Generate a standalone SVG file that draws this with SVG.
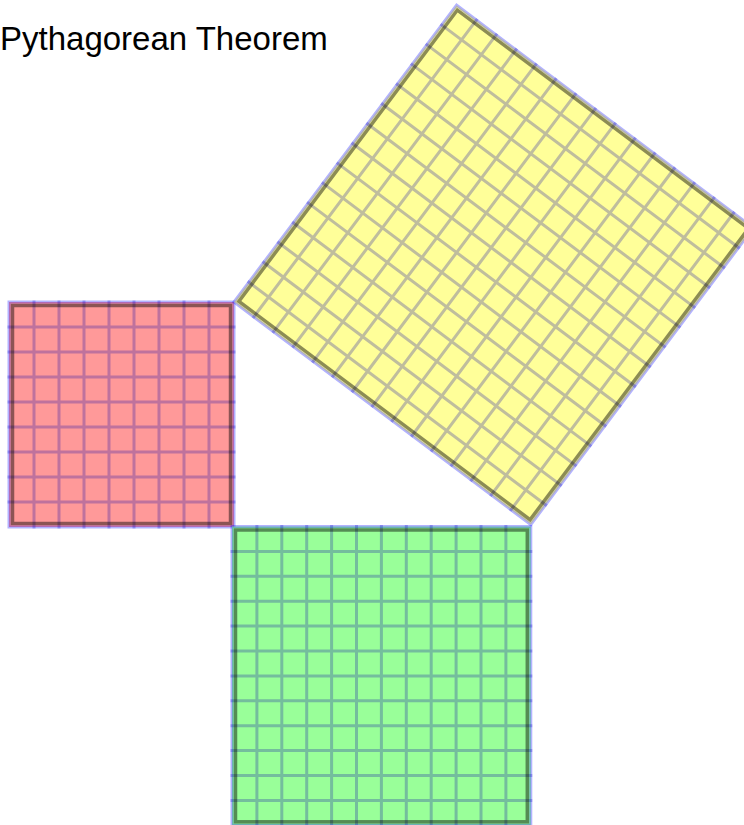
<svg xmlns="http://www.w3.org/2000/svg" width="744" height="825" viewBox="0 0 744 825">
<style>
.title{font-family:"Liberation Sans",Arial,sans-serif;font-size:33px;fill:#000}
.grid{fill:none;stroke:rgba(20,10,170,0.27);stroke-width:3}
.edge{fill:none;stroke:rgba(0,0,255,0.3);stroke-width:3}
.inner{fill:none;stroke:rgba(0,0,0,0.45);stroke-width:3.5}
</style>
<rect width="744" height="825" fill="#fff"/>
<g id="title"><text class="title" x="0" y="50">Pythagorean Theorem</text></g>
<g id="square-a" transform="translate(9,302)">
<rect width="225" height="225" fill="#ff9999"/>
<path class="grid" d="M25,-1.5V226.5M50,-1.5V226.5M75,-1.5V226.5M100,-1.5V226.5M125,-1.5V226.5M150,-1.5V226.5M175,-1.5V226.5M200,-1.5V226.5M-1.5,25H226.5M-1.5,50H226.5M-1.5,75H226.5M-1.5,100H226.5M-1.5,125H226.5M-1.5,150H226.5M-1.5,175H226.5M-1.5,200H226.5"/>
<rect class="edge" width="225" height="225"/>
<rect class="inner" x="3.5" y="3.5" width="218" height="218"/>
</g>
<g id="square-b" transform="translate(232,526.5)">
<rect width="298.8" height="298.8" fill="#99ff99"/>
<path class="grid" d="M24.9,-1.5V300.3M49.8,-1.5V300.3M74.7,-1.5V300.3M99.6,-1.5V300.3M124.5,-1.5V300.3M149.4,-1.5V300.3M174.3,-1.5V300.3M199.2,-1.5V300.3M224.1,-1.5V300.3M249,-1.5V300.3M273.9,-1.5V300.3M-1.5,24.9H300.3M-1.5,49.8H300.3M-1.5,74.7H300.3M-1.5,99.6H300.3M-1.5,124.5H300.3M-1.5,149.4H300.3M-1.5,174.3H300.3M-1.5,199.2H300.3M-1.5,224.1H300.3M-1.5,249H300.3M-1.5,273.9H300.3"/>
<rect class="edge" width="298.8" height="298.8"/>
<rect class="inner" x="3.5" y="3.5" width="291.8" height="291.8"/>
</g>
<g id="square-c" transform="translate(234,302) rotate(36.87)">
<rect x="0" y="-371" width="371" height="371" fill="#ffff99"/>
<path class="grid" d="M24.73,-372.5V1.5M49.47,-372.5V1.5M74.2,-372.5V1.5M98.93,-372.5V1.5M123.67,-372.5V1.5M148.4,-372.5V1.5M173.13,-372.5V1.5M197.87,-372.5V1.5M222.6,-372.5V1.5M247.33,-372.5V1.5M272.07,-372.5V1.5M296.8,-372.5V1.5M321.53,-372.5V1.5M346.27,-372.5V1.5M-1.5,-24.73H372.5M-1.5,-49.47H372.5M-1.5,-74.2H372.5M-1.5,-98.93H372.5M-1.5,-123.67H372.5M-1.5,-148.4H372.5M-1.5,-173.13H372.5M-1.5,-197.87H372.5M-1.5,-222.6H372.5M-1.5,-247.33H372.5M-1.5,-272.07H372.5M-1.5,-296.8H372.5M-1.5,-321.53H372.5M-1.5,-346.27H372.5"/>
<rect class="edge" x="0" y="-371" width="371" height="371"/>
<rect class="inner" x="3.5" y="-367.5" width="364" height="364"/>
</g>
</svg>
